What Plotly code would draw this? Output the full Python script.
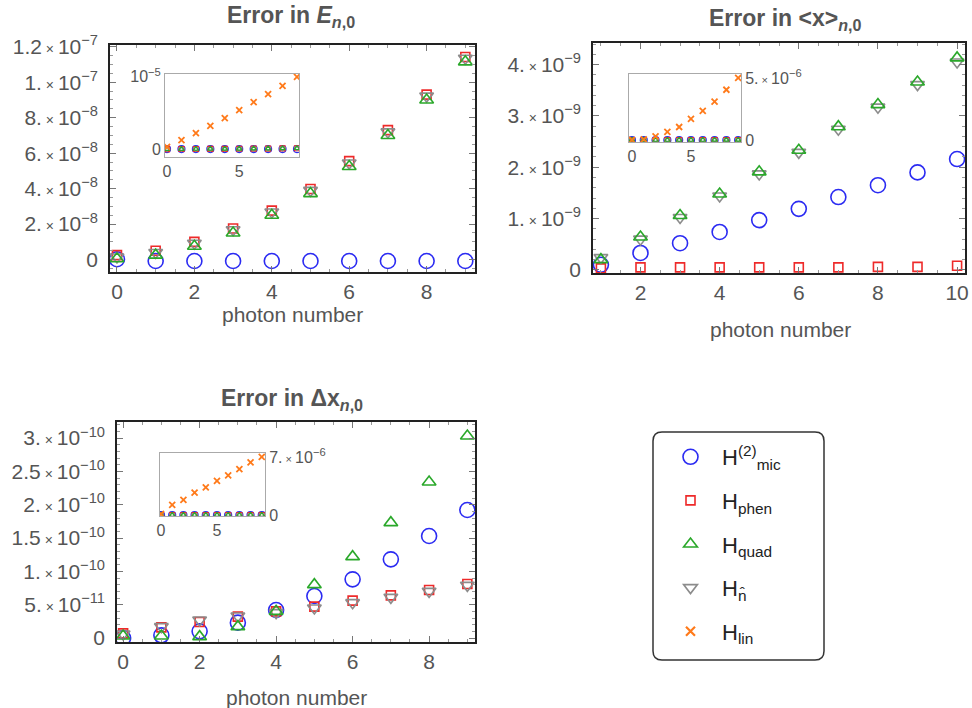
import plotly.graph_objects as go

# ---------------- data ----------------
n_E = [0, 1, 2, 3, 4, 5, 6, 7, 8, 9]
E_mic = [0.02e-8, -0.08e-8, -0.08e-8, -0.08e-8, -0.08e-8, -0.08e-8, -0.08e-8, -0.08e-8, -0.08e-8, -0.08e-8]
E_phen = [0.25e-8, 0.5e-8, 1.0e-8, 1.75e-8, 2.76e-8, 3.98e-8, 5.55e-8, 7.3e-8, 9.3e-8, 1.142e-7]
E_quad = [0.05e-8, 0.25e-8, 0.75e-8, 1.5e-8, 2.5e-8, 3.72e-8, 5.25e-8, 7.0e-8, 9.0e-8, 1.115e-7]
E_nhat = [0.15e-8, 0.4e-8, 0.92e-8, 1.68e-8, 2.68e-8, 3.9e-8, 5.45e-8, 7.2e-8, 9.22e-8, 1.135e-7]
E_lin = [0.03e-5, 0.125e-5, 0.22e-5, 0.32e-5, 0.43e-5, 0.54e-5, 0.65e-5, 0.76e-5, 0.875e-5, 1.0e-5]

n_X = [1, 2, 3, 4, 5, 6, 7, 8, 9, 10]
n_X_inset = [0, 1, 2, 3, 4, 5, 6, 7, 8, 9]
X_mic = [0.1e-9, 0.33e-9, 0.52e-9, 0.74e-9, 0.97e-9, 1.19e-9, 1.42e-9, 1.65e-9, 1.9e-9, 2.16e-9]
X_phen = [0.03e-9, 0.05e-9, 0.05e-9, 0.05e-9, 0.05e-9, 0.05e-9, 0.05e-9, 0.06e-9, 0.06e-9, 0.08e-9]
X_quad = [0.2e-9, 0.64e-9, 1.06e-9, 1.48e-9, 1.91e-9, 2.33e-9, 2.79e-9, 3.22e-9, 3.66e-9, 4.13e-9]
X_nhat = [0.24e-9, 0.6e-9, 1.02e-9, 1.44e-9, 1.87e-9, 2.29e-9, 2.74e-9, 3.17e-9, 3.61e-9, 4.05e-9]
X_lin = [0.0, 0.05e-6, 0.3e-6, 0.65e-6, 1.05e-6, 1.7e-6, 2.35e-6, 3.1e-6, 4.05e-6, 5.0e-6]

n_D = [0, 1, 2, 3, 4, 5, 6, 7, 8, 9]
D_mic = [0.0, 0.04e-10, 0.1e-10, 0.23e-10, 0.42e-10, 0.63e-10, 0.88e-10, 1.18e-10, 1.53e-10, 1.92e-10]
D_phen = [0.07e-10, 0.16e-10, 0.24e-10, 0.32e-10, 0.4e-10, 0.47e-10, 0.56e-10, 0.64e-10, 0.72e-10, 0.81e-10]
D_quad = [0.03e-10, 0.03e-10, 0.02e-10, 0.17e-10, 0.4e-10, 0.8e-10, 1.22e-10, 1.73e-10, 2.34e-10, 3.03e-10]
D_nhat = [0.06e-10, 0.17e-10, 0.27e-10, 0.33e-10, 0.38e-10, 0.45e-10, 0.53e-10, 0.61e-10, 0.7e-10, 0.79e-10]
D_lin = [0.12e-6, 1.21e-6, 1.82e-6, 2.71e-6, 3.32e-6, 4.13e-6, 4.77e-6, 5.54e-6, 6.35e-6, 7.0e-6]

E_ticks = [0, 2e-8, 4e-8, 6e-8, 8e-8, 1e-7, 1.2e-7]
E_labels = ["0", "2.", "4.", "6.", "8.", "1.", "1.2"]
E_exps = [None, "8", "8", "8", "8", "7", "7"]
X_ticks = [0, 1e-9, 2e-9, 3e-9, 4e-9]
X_labels = ["0", "1.", "2.", "3.", "4."]
X_exps = [None, "9", "9", "9", "9"]
D_ticks = [0, 0.5e-10, 1e-10, 1.5e-10, 2e-10, 2.5e-10, 3e-10]
D_labels = ["0", "5.", "1.", "1.5", "2.", "2.5", "3."]
D_exps = [None, "11", "10", "10", "10", "10", "10"]

names = ["H<sup>(2)</sup><sub>mic</sub>", "H<sub>phen</sub>", "H<sub>quad</sub>",
         "H<sub>n̂</sub>", "H<sub>lin</sub>"]

# ---------------- styles ----------------
FONT = "Liberation Sans, Arial, sans-serif"
C_MIC, C_PHEN, C_QUAD, C_N, C_LIN = "#2b2bf2", "#ee2a2a", "#2aa82a", "#8c8c8c", "#ff7a1a"


def sci(lbls, exps, xsize=14):
    out = []
    for l, e in zip(lbls, exps):
        if e is None:
            out.append(l)
        else:
            out.append(f"{l}<span style='font-size:{xsize}px'> × </span>10<sup>−{e}</sup>")
    return out


W, H = 972, 708


def dom_x(a, b):
    return [a / W, b / W]


def dom_y(top, bot):
    return [1 - bot / H, 1 - top / H]


fig = go.Figure()


def add_series(ys_list, xa, ya, big, legend=False):
    syms = ["circle-open", "square-open", "triangle-up-open", "triangle-down-open", "x-thin-open"]
    cols = [C_MIC, C_PHEN, C_QUAD, C_N, C_LIN]
    if big:
        sizes = [15, 9, 12, 12, 9]
        lw = [1.6, 1.6, 1.6, 1.6, 2.2]
    else:
        sizes = [7, 5, 5, 5, 6]
        lw = [1.2, 1.2, 1.2, 1.2, 1.8]
    order = [0, 1, 3, 2, 4]
    for i in order:
        ys, x = ys_list[i]
        if ys is None:
            continue
        fig.add_trace(go.Scatter(
            x=x, y=ys, xaxis=xa, yaxis=ya, mode="markers", name=names[i],
            showlegend=legend, legendrank=i, legendgroup=names[i] if legend else None,
            marker=dict(symbol=syms[i], size=sizes[i], color=cols[i],
                        line=dict(color=cols[i], width=lw[i])),
        ))


# top-left main + inset
add_series([(E_mic, n_E), (E_phen, n_E), (E_quad, n_E), (E_nhat, n_E), (E_lin, n_E)], "x", "y", True, legend=True)
add_series([(E_mic, n_E), (E_phen, n_E), (E_quad, n_E), (E_nhat, n_E), (E_lin, n_E)], "x2", "y2", False)
# top-right
add_series([(X_mic, n_X), (X_phen, n_X), (X_quad, n_X), (X_nhat, n_X), (None, n_X)], "x3", "y3", True)
add_series([(X_mic, n_X_inset), (X_phen, n_X_inset), (X_quad, n_X_inset), (X_nhat, n_X_inset), (X_lin, n_X_inset)], "x4", "y4", False)
# bottom-left
add_series([(D_mic, n_D), (D_phen, n_D), (D_quad, n_D), (D_nhat, n_D), (None, n_D)], "x5", "y5", True)
add_series([(D_mic, n_D), (D_phen, n_D), (D_quad, n_D), (D_nhat, n_D), (D_lin, n_D)], "x6", "y6", False)

main_ax = dict(showline=True, linecolor="#222", linewidth=1.6, mirror="ticks", ticks="inside",
               ticklen=6, tickwidth=1, tickcolor="#777", showgrid=False, zeroline=False,
               automargin=False, ticklabelstandoff=6,
               tickfont=dict(size=21, color="#555", family=FONT),
               minor=dict(ticks="inside", ticklen=3, tickcolor="#999", showgrid=False))
main_x = dict(main_ax, ticklabelstandoff=0)
inset_ax = dict(showline=True, linecolor="#aaa", linewidth=1, mirror=True, ticks="",
                showgrid=False, zeroline=False, automargin=False,
                tickfont=dict(size=16, color="#555", family=FONT))

layout = dict(
    width=W, height=H, margin=dict(l=0, r=0, t=0, b=0),
    paper_bgcolor="white", plot_bgcolor="white",
    font=dict(family=FONT, color="#444"),
    xaxis=dict(main_x, domain=dom_x(110, 475), anchor="y", range=[-0.18, 9.25],
               tickmode="array", tickvals=[0, 2, 4, 6, 8],
               minor=dict(main_ax["minor"], tickmode="linear", tick0=0, dtick=0.5)),
    yaxis=dict(main_ax, domain=dom_y(45, 272), anchor="x", range=[-0.7e-8, 1.21e-7],
               tickmode="array", tickvals=E_ticks, ticktext=sci(E_labels, E_exps),
               minor=dict(main_ax["minor"], tickmode="linear", tick0=0, dtick=0.5e-8)),
    xaxis2=dict(inset_ax, domain=dom_x(165, 299), anchor="y2", range=[-0.14, 9.14],
                tickmode="array", tickvals=[0, 5]),
    yaxis2=dict(inset_ax, domain=dom_y(74, 157), anchor="x2", range=[-0.11e-5, 1.04e-5],
                tickmode="array", tickvals=[0, 1e-5], ticktext=["0", "10<sup>−5</sup>"]),
    xaxis3=dict(main_x, domain=dom_x(593, 965), anchor="y3", range=[0.8, 10.2],
                tickmode="array", tickvals=[2, 4, 6, 8, 10],
                minor=dict(main_ax["minor"], tickmode="linear", tick0=0, dtick=0.5)),
    yaxis3=dict(main_ax, domain=dom_y(43, 273), anchor="x3", range=[-0.06e-9, 4.42e-9],
                tickmode="array", tickvals=X_ticks, ticktext=sci(X_labels, X_exps),
                minor=dict(main_ax["minor"], tickmode="linear", tick0=0, dtick=0.2e-9)),
    xaxis4=dict(inset_ax, domain=dom_x(629, 741), anchor="y4", range=[-0.25, 9.24],
                tickmode="array", tickvals=[0, 5]),
    yaxis4=dict(inset_ax, domain=dom_y(74, 142), anchor="x4", range=[-0.16e-6, 5.32e-6], side="right",
                tickmode="array", tickvals=[0, 5e-6], ticktext=sci(["0", "5."], [None, "6"], 11)),
    xaxis5=dict(main_x, domain=dom_x(117, 475), anchor="y5", range=[-0.16, 9.2],
                tickmode="array", tickvals=[0, 2, 4, 6, 8],
                minor=dict(main_ax["minor"], tickmode="linear", tick0=0, dtick=0.5)),
    yaxis5=dict(main_ax, domain=dom_y(422, 642), anchor="x5", range=[-0.06e-10, 3.24e-10],
                tickmode="array", tickvals=D_ticks, ticktext=sci(D_labels, D_exps),
                minor=dict(main_ax["minor"], tickmode="linear", tick0=0, dtick=0.1e-10)),
    xaxis6=dict(inset_ax, domain=dom_x(160, 265), anchor="y6", range=[-0.09, 9.29],
                tickmode="array", tickvals=[0, 5]),
    yaxis6=dict(inset_ax, domain=dom_y(453, 516), anchor="x6", range=[-0.12e-6, 7.48e-6], side="right",
                tickmode="array", tickvals=[0, 7e-6], ticktext=sci(["0", "7."], [None, "6"], 11)),
    legend=dict(x=659 / W, y=1 - 436 / H, xanchor="left", yanchor="top",
                font=dict(size=22, color="#222", family=FONT), bgcolor="rgba(0,0,0,0)",
                borderwidth=0, tracegroupgap=12, itemwidth=53, traceorder="grouped"),
)
fig.update_layout(**layout)

# titles and axis labels
ann = []


def title(text, x, y, size=23):
    ann.append(dict(text=text, x=x / W, y=1 - y / H, xref="paper", yref="paper", showarrow=False,
                    font=dict(size=size, color="#555", family=FONT), xanchor="center", yanchor="middle"))


title("<b>Error in <i>E</i><sub><i>n</i>,0</sub></b>", 291, 17)
title("<b>Error in &lt;x&gt;<sub><i>n</i>,0</sub></b>", 785, 19)
title("<b>Error in Δx<sub><i>n</i>,0</sub></b>", 292, 399)
title("photon number", 292, 314, 21)
title("photon number", 780, 329, 21)
title("photon number", 296, 697, 21)
fig.update_layout(annotations=ann)

# rounded legend box
x0, x1 = 653 / W, 824 / W
y1, y0 = 1 - 432 / H, 1 - 660 / H
rx, ry = 9 / W, 9 / H
path = (f"M {x0+rx},{y0} L {x1-rx},{y0} Q {x1},{y0} {x1},{y0+ry} L {x1},{y1-ry} "
        f"Q {x1},{y1} {x1-rx},{y1} L {x0+rx},{y1} Q {x0},{y1} {x0},{y1-ry} L {x0},{y0+ry} "
        f"Q {x0},{y0} {x0+rx},{y0} Z")
fig.add_shape(type="path", path=path, xref="paper", yref="paper",
              line=dict(color="#333", width=1.5), fillcolor="rgba(0,0,0,0)")

fig.write_html("out.html", config={"displayModeBar": False},
               post_script="document.body.style.margin='0';")
